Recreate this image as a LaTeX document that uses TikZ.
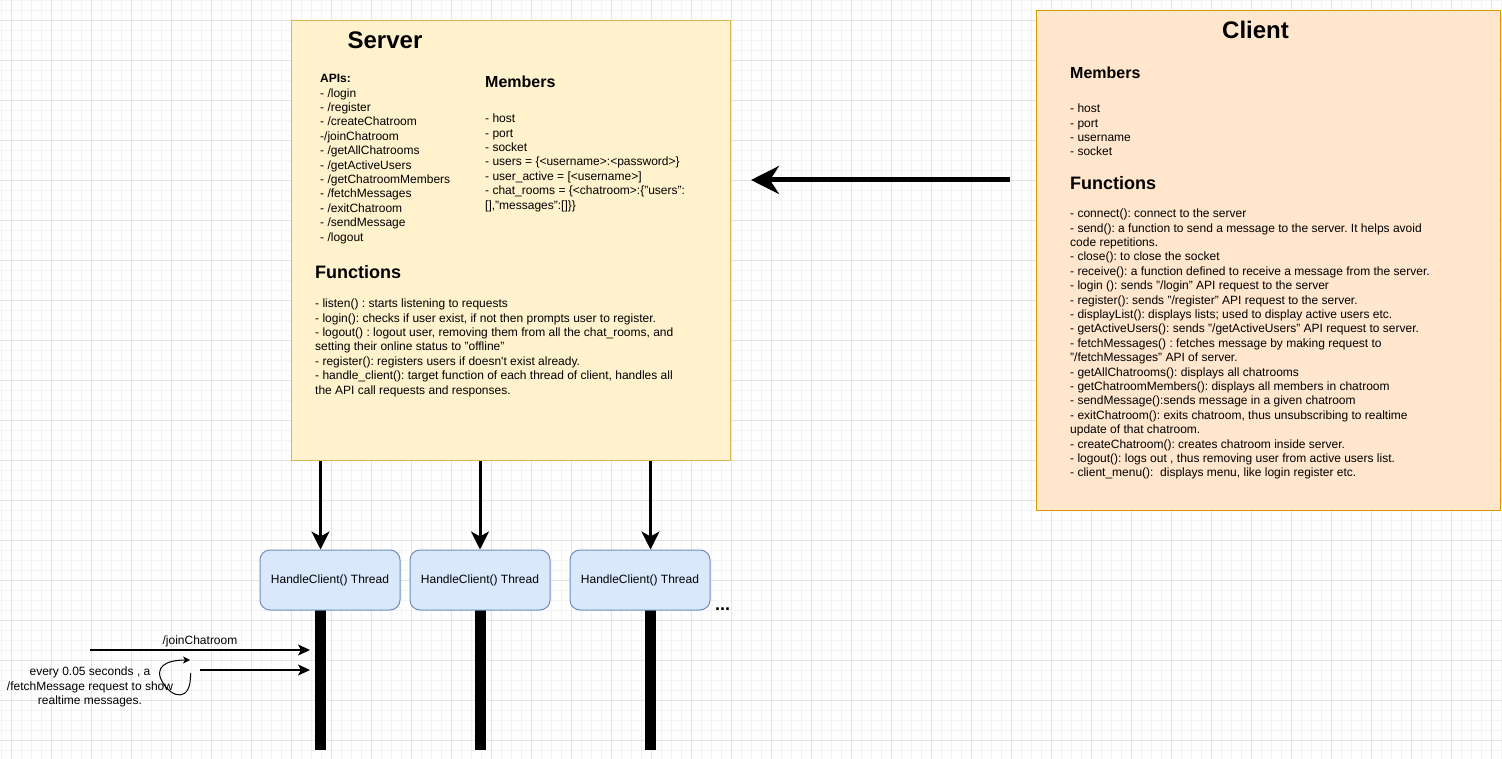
\documentclass[tikz,border=0pt]{standalone}
\usepackage{fontspec}
\setmainfont{Liberation Sans}
\usetikzlibrary{arrows.meta}
\frenchspacing

\definecolor{srvfill}{HTML}{FFF2CC}
\definecolor{srvline}{HTML}{D6B656}
\definecolor{clifill}{HTML}{FFE6CC}
\definecolor{cliline}{HTML}{D79B00}
\definecolor{thrfill}{HTML}{DAE8FC}
\definecolor{thrline}{HTML}{6C8EBF}
\definecolor{gridmajor}{HTML}{E4E4E4}
\definecolor{gridminor}{HTML}{F3F3F3}

% multi-line text blocks are anchored on the baseline of their last line
\tikzset{
  body/.style={font=\fontsize{12}{14.4}\selectfont, inner sep=0pt, anchor=base west, align=left},
  title/.style={font=\fontsize{24}{28}\selectfont\bfseries, inner sep=0pt, anchor=base},
  headbig/.style={font=\fontsize{18}{21}\selectfont\bfseries, inner sep=0pt, anchor=base west},
  headmid/.style={font=\fontsize{16}{19}\selectfont\bfseries, inner sep=0pt, anchor=base west},
  panel/.style={draw, line width=1pt, inner sep=0pt},
  thread/.style={draw=thrline, fill=thrfill, line width=1pt, rounded corners=10pt,
    minimum width=140pt, minimum height=60pt, inner sep=0pt,
    font=\fontsize{12}{14.4}\selectfont},
  lifeline/.style={line width=11pt, black},
  bigarrow/.style={line width=5pt, -{Stealth[length=28pt,width=28pt,inset=9pt]}},
  downarrow/.style={line width=3pt, -{Stealth[length=18pt,width=18pt,inset=5pt]}},
  msgarrow/.style={line width=1.5pt, -{Stealth[length=12pt,width=11pt,inset=3pt]}},
  looparrow/.style={line width=1pt, -{Stealth[length=7pt,width=7pt,inset=2pt]}},
}

\begin{document}
\begin{tikzpicture}[x=1pt,y=-1pt]
  \useasboundingbox (0,0) rectangle (1502,759);
  \fill[white] (0,0) rectangle (1502,759);

  % background grid
  \foreach \gx in {1,11,...,1501} \draw[gridminor, line width=0.8pt] (\gx,0) -- (\gx,759);
  \foreach \gy in {0,10,...,750} \draw[gridminor, line width=0.8pt] (0,\gy) -- (1502,\gy);
  \foreach \gx in {11,51,...,1491} \draw[gridmajor, line width=0.8pt] (\gx,0) -- (\gx,759);
  \foreach \gy in {20,60,...,740} \draw[gridmajor, line width=0.8pt] (0,\gy) -- (1502,\gy);

  % server and client panels
  \node[panel, draw=srvline, fill=srvfill, minimum width=439.5pt, minimum height=439.5pt, anchor=north west] (srv) at (290.5,20.5) {};
  \node[panel, draw=cliline, fill=clifill, minimum width=464.5pt, minimum height=499.5pt, anchor=north west] (cli) at (1035.5,10.5) {};

  % server content
  \node[title] (srvtitle) at (385,49) {Server};
  \node[body] (apis) at (320,241.1) {{\bfseries APIs:}\\- /login\\- /register\\- /createChatroom\\-/joinChatroom\\- /getAllChatrooms\\- /getActiveUsers\\- /getChatroomMembers\\- /fetchMessages\\- /exitChatroom\\- /sendMessage\\- /logout};
  \node[headmid] (srvmemh) at (485,88) {Members};
  \node[body] (srvmem) at (485,209.1) {- host\\- port\\- socket\\- users = \{<username>:<password>\}\\- user\_active = [<username>]\\- chat\_rooms = \{<chatroom>:\{"users":\\\relax[],"messages":[]\}\}};
  \node[headbig] (srvfunh) at (315,279) {Functions};
  \node[body] (srvfun) at (315,394.1) {- listen() : starts listening to requests\\- login(): checks if user exist, if not then prompts user to register.\\- logout() : logout user, removing them from all the chat\_rooms, and\\setting their online status to "offline"\\- register(): registers users if doesn\textquotesingle t exist already.\\- handle\_client(): target function of each thread of client, handles all\\the API call requests and responses.};

  % client content
  \node[title] (clititle) at (1255.5,38.7) {Client};
  \node[headmid] (climemh) at (1070,79) {Members};
  \node[body] (climem) at (1070,155.9) {- host\\- port\\- username\\- socket};
  \node[headbig] (clifunh) at (1070,189.3) {Functions};
  \node[body] (clifun) at (1070,476.9) {- connect(): connect to the server\\
- send(): a function to send a message to the server. It helps avoid\\
code repetitions.\\
- close(): to close the socket\\
- receive(): a function defined to receive a message from the server.\\
- login (): sends "/login" API request to the server\\
- register(): sends "/register" API request to the server.\\
- displayList(): displays lists; used to display active users etc.\\
- getActiveUsers(): sends "/getActiveUsers" API request to server.\\
- fetchMessages() : fetches message by making request to\\
"/fetchMessages" API of server.\\
- getAllChatrooms(): displays all chatrooms\\
- getChatroomMembers(): displays all members in chatroom\\
- sendMessage():sends message in a given chatroom\\
- exitChatroom(): exits chatroom, thus unsubscribing to realtime\\
update of that chatroom.\\
- createChatroom(): creates chatroom inside server.\\
- logout(): logs out , thus removing user from active users list.\\
- client\_menu():\ \ displays menu, like login register etc.};

  % client -> server
  \coordinate (clistart) at (1010,180);
  \coordinate (srvin) at (751,180);
  \draw[bigarrow] (clistart) -- (srvin);

  % lifeline ends
  \coordinate (l1) at (320.5,750);
  \coordinate (l2) at (480,750);
  \coordinate (l3) at (650.5,750);

  % client handler threads
  \draw[lifeline] (l1 |- 0,609) -- (l1);
  \draw[lifeline] (l2 |- 0,609) -- (l2);
  \draw[lifeline] (l3 |- 0,609) -- (l3);
  \node[thread] (t1) at (330,580) {\raisebox{-1pt}{HandleClient() Thread}};
  \node[thread] (t2) at (480,580) {\raisebox{-1pt}{HandleClient() Thread}};
  \node[thread] (t3) at (640,580) {\raisebox{-1pt}{HandleClient() Thread}};
  \node[font=\fontsize{18}{21}\selectfont\bfseries, inner sep=0pt, anchor=base west] (more) at (715,610) {...};

  \draw[downarrow] (srv.south -| l1) -- (t1.north -| l1);
  \draw[downarrow] (srv.south -| l2) -- (t2.north -| l2);
  \draw[downarrow] (srv.south -| l3) -- (t3.north -| l3);

  % requests arriving at the first thread
  \coordinate (joinfrom) at (90,650);
  \coordinate (jointo) at (310,650);
  \draw[msgarrow] (joinfrom) -- (jointo);
  \node[font=\fontsize{12}{14.4}\selectfont, inner sep=0pt, anchor=base] (joinlbl) at (200,644) {/joinChatroom};

  \coordinate (fetchfrom) at (200,670);
  \coordinate (fetchto) at (310,670);
  \draw[msgarrow] (fetchfrom) -- (fetchto);

  \coordinate (loopa) at (190.5,673);
  \coordinate (loopb) at (190,660);
  \draw[looparrow] (loopa) .. controls (191.5,703) and (172,698) .. (163,683) .. controls (153,667) and (166,660) .. (loopb);
  \node[font=\fontsize{12}{14.4}\selectfont, inner sep=0pt, anchor=base, align=center] (fetchlbl) at (90,704.5) {every 0.05 seconds , a\\/fetchMessage request to show\\realtime messages.};
\end{tikzpicture}
\end{document}
